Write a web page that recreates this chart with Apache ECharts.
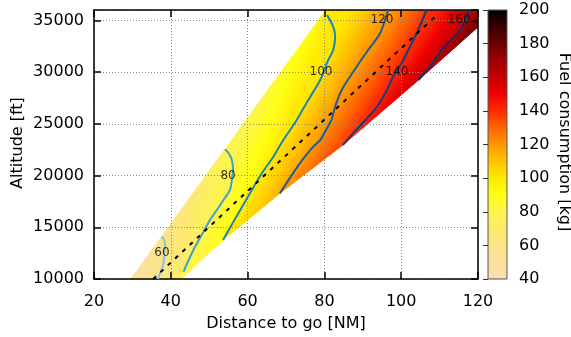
<!DOCTYPE html>
<html>
<head>
<meta charset="utf-8">
<script src="https://cdn.jsdelivr.net/npm/echarts@6/dist/echarts.min.js"></script>
<style>
  html, body { margin: 0; background: #fff; }
  #chart { width: 571px; height: 337px; }
</style>
</head>
<body>
<div id="chart"></div>
<script>
// contour lines, [distance NM, altitude ft], from the low end up
const contour60 = [[36.6, 10000], [37.2, 10550], [37.9, 11190], [38.3, 12160], [38.5, 13290], [38.3, 13770], [37.6, 14090]]
const contour80 = [[43.3, 10710], [45.9, 12800], [48.9, 14830], [50.2, 15700], [52.0, 16670], [53.7, 17640],
  [55.4, 18600], [55.9, 19570], [56.2, 20730], [55.9, 21500], [55.2, 22080], [54.1, 22540]]
const contour100 = [[53.6, 13770], [57.6, 16350], [60.6, 18280], [63.7, 20220], [66.7, 21820], [69.3, 23430],
  [72.8, 25370], [75.8, 27300], [78.9, 29230], [81.0, 31170], [82.3, 32130], [82.8, 33420], [82.3, 34380], [80.7, 35520]]
const contour120 = [[68.4, 18280], [73.6, 21180], [77.1, 22790], [78.9, 23430], [80.4, 24400], [81.9, 25460],
  [82.8, 26650], [84.5, 28270], [88.4, 30520], [91.4, 32130], [94.5, 33750], [96.6, 36000]]
const contour140 = [[84.8, 22950], [88.5, 24500], [91.4, 25660], [93.7, 26650], [96.3, 28270], [98.1, 29720],
  [100.1, 30850], [102.3, 32450], [104.4, 34070], [106.6, 36000]]
const contour160 = [[104.5, 29230], [107.5, 30520], [111.0, 32330], [115.3, 34070], [117.9, 36000]]

const contourLevels = [60, 80, 100, 120, 140, 160]
const contourLabelPos = [[37.7, 12510], [54.9, 19960], [79.1, 30010], [95.0, 35030], [98.9, 30010], [115.1, 35030]]

// corners of the coloured region and the fuel value there
const cornerBL = [29.6, 10000]
const cornerBR = [42.7, 10000]
const cornerTL = [80.4, 36000]
const cornerTR = [120, 36000]
const cornerR = [120, 34360]
const cornerLowValue = 50
const cornerHighValue = 176

// dashed reference line
const refLine = [[35.4, 10000], [109.3, 35520]]

const xTicks = [20, 120, 20]
const yTicks = [10000, 36000, 5000]
const cbTicks = [40, 200, 20]

// palette, 40..200 kg in steps of 10
const paletteColors = ['#ffdcb4', '#fde0a0', '#fde48a', '#fdea6c', '#fff34e', '#ffff14', '#ffe900',
  '#ffc400', '#ff9800', '#ff6400', '#ff2a00', '#f00000', '#c80000', '#9c0000', '#6c0000', '#380000', '#000000']
const contourColors = ['#86c5e0', '#3ea2cc', '#1e86b4', '#1f5e92', '#1c3c7c', '#1a2c66']

const font = 'DejaVu Sans'

function hexRgb(h) {
  return [parseInt(h.slice(1, 3), 16), parseInt(h.slice(3, 5), 16), parseInt(h.slice(5, 7), 16)]
}
function colorAt(v) {
  const t = Math.max(0, Math.min(1, (v - cbTicks[0]) / (cbTicks[1] - cbTicks[0]))) * (paletteColors.length - 1)
  const i = Math.min(Math.floor(t), paletteColors.length - 2)
  const f = t - i
  const a = hexRgb(paletteColors[i]), b = hexRgb(paletteColors[i + 1])
  return 'rgb(' + a.map((c, k) => Math.round(c + (b[k] - c) * f)).join(',') + ')'
}
const rev = arr => arr.slice().reverse()

const bands = [
  { from: cornerLowValue, to: 60, low: [cornerBL], high: contour60, poly: [cornerBL].concat(contour60) },
  { from: 60, to: 80, low: contour60, high: contour80, poly: contour60.concat(rev(contour80), [cornerBR]) },
  { from: 80, to: 100, low: contour80, high: contour100, poly: contour80.concat([cornerTL], rev(contour100), [cornerBR]) },
  { from: 100, to: 120, low: contour100, high: contour120, poly: contour100.concat([cornerTL], rev(contour120)) },
  { from: 120, to: 140, low: contour120, high: contour140, poly: contour120.concat(rev(contour140)) },
  { from: 140, to: 160, low: contour140, high: contour160, poly: contour140.concat(rev(contour160)) },
  { from: 160, to: cornerHighValue, low: contour160, high: [cornerTR, cornerR], poly: contour160.concat([cornerTR, cornerR]) },
]

function renderBand(params, api) {
  const band = bands[params.dataIndex]
  const low = band.low.map(p => api.coord(p))
  const high = band.high.map(p => api.coord(p))
  const poly = band.poly.map(p => api.coord(p))
  // direction along the band, from the contour lines
  let tx = 0, ty = 0
  ;[low, high].forEach(line => {
    if (line.length < 3) return
    const dx = line[line.length - 1][0] - line[0][0]
    const dy = line[line.length - 1][1] - line[0][1]
    const len = Math.hypot(dx, dy)
    tx += dx / len
    ty += dy / len
  })
  const tl = Math.hypot(tx, ty)
  let ux = -ty / tl, uy = tx / tl
  const mean = pts => pts.reduce((s, p) => [s[0] + p[0] / pts.length, s[1] + p[1] / pts.length], [0, 0])
  const mLow = mean(low), mHigh = mean(high)
  if ((mHigh[0] - mLow[0]) * ux + (mHigh[1] - mLow[1]) * uy < 0) { ux = -ux; uy = -uy }
  const proj = pts => pts.reduce((s, p) => s + (p[0] * ux + p[1] * uy) / pts.length, 0)
  const pA = proj(low), pB = proj(high)
  const stops = []
  for (let k = 0; k <= 4; k++)
    stops.push({ offset: k / 4, color: colorAt(band.from + (band.to - band.from) * k / 4) })
  const grad = new echarts.graphic.LinearGradient(ux * pA, uy * pA, ux * pB, uy * pB, stops, true)
  return {
    type: 'polygon',
    shape: { points: poly },
    style: { fill: grad, stroke: grad, lineWidth: 1 },
  }
}

function renderColorbar(params, api) {
  const top = api.coord([0, cbTicks[1]])
  const bottom = api.coord([1, cbTicks[0]])
  const stops = paletteColors.map((c, i) => ({ offset: 1 - i / (paletteColors.length - 1), color: c }))
  return {
    type: 'rect',
    shape: { x: top[0], y: top[1], width: bottom[0] - top[0], height: bottom[1] - top[1] },
    style: {
      fill: new echarts.graphic.LinearGradient(0, 0, 0, 1, stops),
      stroke: '#555',
      lineWidth: 1,
    },
  }
}

const chart = echarts.init(document.getElementById('chart'), null, { renderer: 'canvas' })

const frameLine = { show: true, onZero: false, lineStyle: { color: '#000', width: 1.5 } }
const frameTick = { show: true, inside: true, length: 7, lineStyle: { color: '#000', width: 1.5 } }
const gridDots = { show: true, lineStyle: { color: '#888', width: 1, type: [1, 2] } }
const tickFont = { fontFamily: font, fontSize: 16, color: '#000' }

const series = [
  {
    type: 'custom',
    name: 'fuel',
    renderItem: renderBand,
    data: bands.map((b, i) => [i]),
    clip: true,
    z: 1,
    silent: true,
  },
]
const contours = [contour60, contour80, contour100, contour120, contour140, contour160]
contours.forEach((c, i) => {
  series.push({
    type: 'line',
    data: c,
    showSymbol: false,
    smooth: 0.3,
    lineStyle: { color: contourColors[i], width: 2 },
    z: 4,
  })
})
series.push({
  type: 'line',
  data: refLine,
  showSymbol: false,
  lineStyle: { color: '#000', width: 2, type: [4, 6] },
  z: 5,
})
series.push({
  type: 'scatter',
  data: contourLabelPos.map((p, i) => [p[0], p[1], contourLevels[i]]),
  symbolSize: 0,
  itemStyle: { color: 'rgba(0,0,0,0)' },
  label: {
    show: true,
    position: 'inside',
    formatter: p => String(p.value[2]),
    fontFamily: font,
    fontSize: 12,
    color: '#000',
  },
  z: 6,
})
series.push({
  type: 'custom',
  xAxisIndex: 2,
  yAxisIndex: 2,
  renderItem: renderColorbar,
  data: [[0]],
  z: 1,
  silent: true,
})

chart.setOption({
  animation: false,
  backgroundColor: '#fff',
  grid: [
    { left: 94, top: 10, width: 384, height: 269 },
    { left: 488, top: 10, width: 19, height: 269 },
  ],
  xAxis: [
    {
      type: 'value', gridIndex: 0, position: 'bottom',
      min: xTicks[0], max: xTicks[1], interval: xTicks[2],
      axisLine: frameLine, axisTick: frameTick,
      axisLabel: Object.assign({ margin: 15 }, tickFont),
      splitLine: gridDots, z: 3,
    },
    {
      type: 'value', gridIndex: 0, position: 'top',
      min: xTicks[0], max: xTicks[1], interval: xTicks[2],
      axisLine: frameLine, axisTick: frameTick,
      axisLabel: { show: false }, splitLine: { show: false }, z: 3,
    },
    { type: 'value', gridIndex: 1, min: 0, max: 1, show: false },
  ],
  yAxis: [
    {
      type: 'value', gridIndex: 0, position: 'left',
      min: yTicks[0], max: yTicks[1], interval: yTicks[2],
      axisLine: frameLine, axisTick: frameTick,
      axisLabel: Object.assign({ margin: 10, showMaxLabel: false, formatter: v => String(v) }, tickFont),
      splitLine: gridDots, z: 3,
    },
    {
      type: 'value', gridIndex: 0, position: 'right',
      min: yTicks[0], max: yTicks[1], interval: yTicks[2],
      axisLine: frameLine, axisTick: frameTick,
      axisLabel: { show: false }, splitLine: { show: false }, z: 3,
    },
    {
      type: 'value', gridIndex: 1, position: 'right',
      min: cbTicks[0], max: cbTicks[1], interval: cbTicks[2],
      axisLine: { show: false },
      axisTick: { show: true, inside: true, length: 5, lineStyle: { color: '#333', width: 1 } },
      axisLabel: Object.assign({ margin: 12 }, tickFont),
      splitLine: { show: false }, z: 3,
    },
  ],
  graphic: [
    {
      type: 'text', x: 18, y: 143, rotation: Math.PI / 2,
      style: { text: 'Altitude [ft]', font: '16px "DejaVu Sans"', fill: '#000', align: 'center', verticalAlign: 'middle' },
    },
    {
      type: 'text', x: 286, y: 324,
      style: { text: 'Distance to go [NM]', font: '16px "DejaVu Sans"', fill: '#000', align: 'center', verticalAlign: 'middle' },
    },
    {
      type: 'text', x: 564, y: 142, rotation: -Math.PI / 2,
      style: { text: 'Fuel consumption [kg]', font: '16px "DejaVu Sans"', fill: '#000', align: 'center', verticalAlign: 'middle' },
    },
  ],
  series,
})
</script>
</body>
</html>
